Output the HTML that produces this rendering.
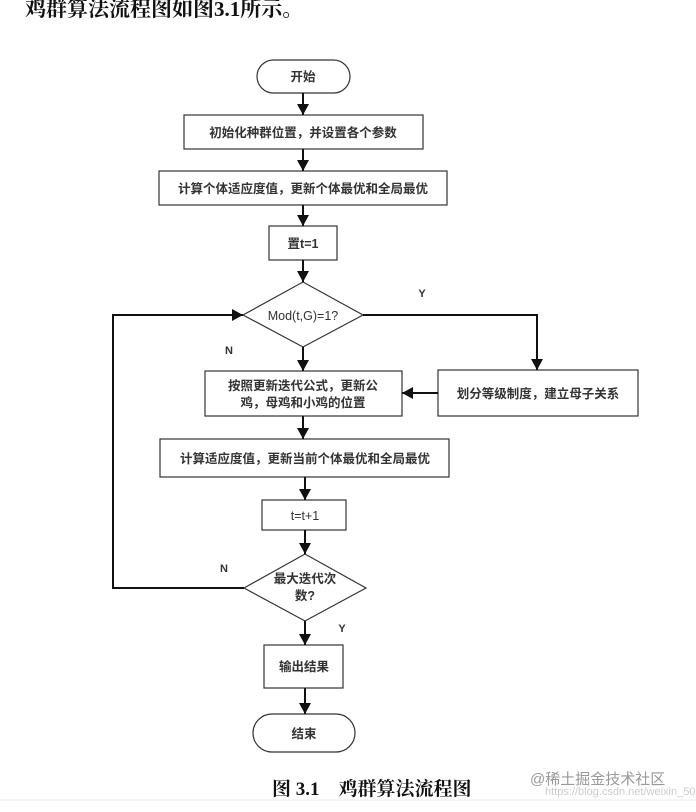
<!DOCTYPE html>
<html><head><meta charset="utf-8"><style>
html,body{margin:0;padding:0;background:#fff;}
svg{display:block;}
</style></head><body>
<svg width="696" height="812" viewBox="0 0 696 812" xmlns="http://www.w3.org/2000/svg">
<defs>
<marker id="a" markerWidth="12" markerHeight="12" refX="11" refY="6" orient="auto" markerUnits="userSpaceOnUse">
<path d="M0,0 L11,6 L0,12 Z" fill="#111"/></marker>
</defs>
<text x="25" y="16" font-family="Liberation Serif, Noto Serif CJK SC, serif" font-size="21" font-weight="bold" fill="#111">鸡群算法流程图如图3.1所示。</text>

<g fill="none" stroke="#333" stroke-width="1.2">
<rect x="257" y="60" width="93" height="33" rx="16.5"/>
<rect x="184" y="115" width="239" height="34"/>
<rect x="159" y="171" width="288" height="34"/>
<rect x="269" y="226" width="68" height="34"/>
<polygon points="243,315 303,282 363,315 303,347"/>
<rect x="205" y="371" width="197" height="45"/>
<rect x="438" y="370" width="200" height="46"/>
<rect x="160" y="439" width="289" height="38"/>
<rect x="262" y="500" width="84" height="30"/>
<polygon points="244,588 305,554 366,588 305,621"/>
<rect x="264" y="645" width="79" height="43"/>
<rect x="253" y="714" width="102" height="38" rx="19"/>
</g>

<g stroke="#111" stroke-width="2" fill="none" marker-end="url(#a)">
<line x1="303" y1="93" x2="303" y2="115"/>
<line x1="303" y1="149" x2="303" y2="171"/>
<line x1="303" y1="205" x2="303" y2="226"/>
<line x1="303" y1="260" x2="303" y2="282"/>
<line x1="303" y1="347" x2="303" y2="371"/>
<polyline points="363,315 537,315 537,370"/>
<line x1="438" y1="393" x2="402" y2="393"/>
<line x1="303" y1="416" x2="303" y2="439"/>
<line x1="305" y1="477" x2="305" y2="500"/>
<line x1="305" y1="530" x2="305" y2="554"/>
<line x1="305" y1="621" x2="305" y2="645"/>
<line x1="305" y1="688" x2="305" y2="714"/>
<polyline points="244,588 113,588 113,315 243,315"/>
</g>

<g font-family="Liberation Sans, Noto Sans CJK SC, sans-serif" font-size="12.5" font-weight="bold" fill="#333" text-anchor="middle">
<text x="303" y="81">开始</text>
<text x="303" y="137">初始化种群位置，并设置各个参数</text>
<text x="303" y="193">计算个体适应度值，更新个体最优和全局最优</text>
<text x="303" y="248">置t=1</text>
<text x="303" y="320" font-weight="normal">Mod(t,G)=1?</text>
<text x="303" y="390">按照更新迭代公式，更新公</text>
<text x="303" y="407">鸡，母鸡和小鸡的位置</text>
<text x="538" y="398">划分等级制度，建立母子关系</text>
<text x="305" y="463">计算适应度值，更新当前个体最优和全局最优</text>
<text x="305" y="520" font-weight="normal">t=t+1</text>
<text x="305" y="583">最大迭代次</text>
<text x="305" y="600">数?</text>
<text x="304" y="671">输出结果</text>
<text x="304" y="738">结束</text>
<text x="422" y="297" font-size="11">Y</text>
<text x="229" y="354" font-size="11">N</text>
<text x="224" y="572" font-size="11">N</text>
<text x="342" y="632" font-size="11">Y</text>
</g>

<text x="272" y="795" font-family="Liberation Serif, Noto Serif CJK SC, serif" font-size="19" font-weight="bold" fill="#111">图 3.1　鸡群算法流程图</text>
<text x="545" y="795" font-family="Liberation Sans, Noto Sans CJK SC, sans-serif" font-size="11" fill="#ccc">https://blog.csdn.net/weixin_50197058</text>
<text x="530" y="784" font-family="Liberation Sans, Noto Sans CJK SC, sans-serif" font-size="15" fill="#999">@稀土掘金技术社区</text>
<line x1="0" y1="800" x2="696" y2="800" stroke="#eee"/>
</svg>
</body></html>
